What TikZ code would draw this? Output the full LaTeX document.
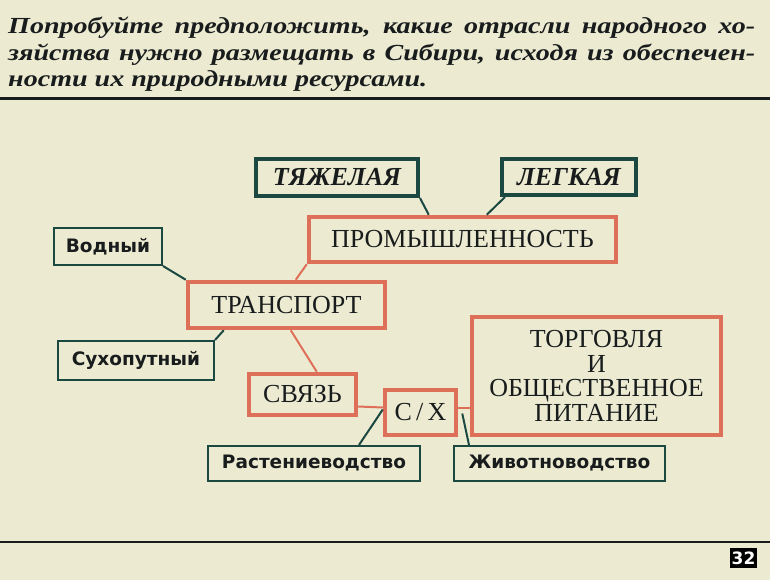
\documentclass[tikz,border=0pt]{standalone}
\usepackage{fontspec}
\setmainfont{Liberation Serif}
\newfontfamily\tagfont{DejaVu Sans}
\newfontfamily\askfont[FakeStretch=1.22]{Liberation Serif}
\usetikzlibrary{positioning}
\definecolor{paper}{RGB}{236,235,210}
\definecolor{salmon}{RGB}{222,112,90}
\definecolor{pine}{RGB}{28,72,66}
\definecolor{ink}{RGB}{25,28,28}

\tikzset{
  mainbox/.style={draw=salmon, line width=4.5pt, fill=paper, text=ink, inner sep=0pt,
    font=\fontsize{26}{24.5}\selectfont},
  kindbox/.style={draw=pine, line width=4pt, fill=paper, text=ink, inner sep=0pt,
    font=\bfseries\itshape\fontsize{26}{28}\selectfont},
  tagbox/.style={draw=pine, line width=2pt, fill=paper, text=ink, inner sep=0pt,
    font=\tagfont\bfseries\fontsize{18.5}{22}\selectfont},
  redlink/.style={draw=salmon, line width=2pt},
  greenlink/.style={draw=pine, line width=2pt},
  headline/.style={anchor=base west, inner sep=0pt, text=ink,
    font=\askfont\bfseries\itshape\fontsize{23}{26}\selectfont},
}

\begin{document}
\begin{tikzpicture}[x=1pt, y=-1pt]
    \fill[paper] (0,0) rectangle (770,580);
    \useasboundingbox (0,0) rectangle (770,580);

    % question
    \node[headline] (q1) at (8,34) {\makebox[747pt][s]{Попробуйте предположить, какие отрасли народного хо-}};
    \node[headline] (q2) at (8,61) {\makebox[747pt][s]{зяйства нужно размещать в Сибири, исходя из обеспечен-}};
    \node[headline] (q3) at (8,87) {ности их природными ресурсами.};
    \draw[ink, line width=3pt] (0,99) -- (770,99);
    \draw[ink, line width=2.5pt] (0,542) -- (770,542);

    % branches
    \node[kindbox, minimum width=162, minimum height=37] (heavy) at (337,177.5) {ТЯЖЕЛАЯ};
    \node[kindbox, minimum width=134, minimum height=36] (light) at (569,177) {ЛЕГКАЯ};
    \node[mainbox, minimum width=307, minimum height=45] (industry) at (462.5,239.5) {ПРОМЫШЛЕННОСТЬ};
    \node[tagbox, minimum width=108, minimum height=37] (water) at (108,246.5) {Водный};
    \node[mainbox, minimum width=197, minimum height=46] (transport) at (286.5,305) {ТРАНСПОРТ};
    \node[tagbox, minimum width=156, minimum height=39] (land) at (136,360.5) {Сухопутный};
    \node[mainbox, minimum width=107, minimum height=41] (comm) at (302.5,394.5) {СВЯЗЬ};
    \node[mainbox, minimum width=71, minimum height=45] (agri) at (420.5,412.5) {С\,/\,Х};
    \node[mainbox, minimum width=249, minimum height=118, align=center] (trade) at (596.5,376)
        {ТОРГОВЛЯ\\И\\ОБЩЕСТВЕННОЕ\\ПИТАНИЕ};
    \node[tagbox, minimum width=212, minimum height=35] (crops) at (314,463.5) {Растениеводство};
    \node[tagbox, minimum width=211, minimum height=35] (stock) at (559.5,463.5) {Животноводство};

    % links
    \draw[greenlink] (heavy.south east) -- ([xshift=122pt]industry.north west);
    \draw[greenlink] ([xshift=5pt]light.south west) -- ([xshift=180pt]industry.north west);
    \draw[greenlink] (water.south east) -- (transport.north west);
    \draw[redlink] ([xshift=110pt]transport.north west) -- (industry.south west);
    \draw[greenlink] (land.north east) -- ([xshift=38pt]transport.south west);
    \draw[redlink] ([xshift=105pt]transport.south west) -- ([xshift=70pt]comm.north west);
    \draw[redlink] ([yshift=-12pt]comm.east) -- ([yshift=5pt]agri.west);
    \draw[redlink] ([yshift=5pt]agri.east) -- ([yshift=5pt]agri.east -| trade.west);
    \draw[greenlink] ([xshift=152pt]crops.north west) -- ([yshift=3pt]agri.west);
    \draw[greenlink] ([xshift=4pt,yshift=-1pt]agri.east) -- ([xshift=16pt]stock.north west);

    % page number
    \node[fill=black, text=white, inner sep=0pt, minimum width=27, minimum height=20,
          font=\tagfont\bfseries\fontsize{17}{17}\selectfont] (page) at (743.5,558) {32};
\end{tikzpicture}
\end{document}
